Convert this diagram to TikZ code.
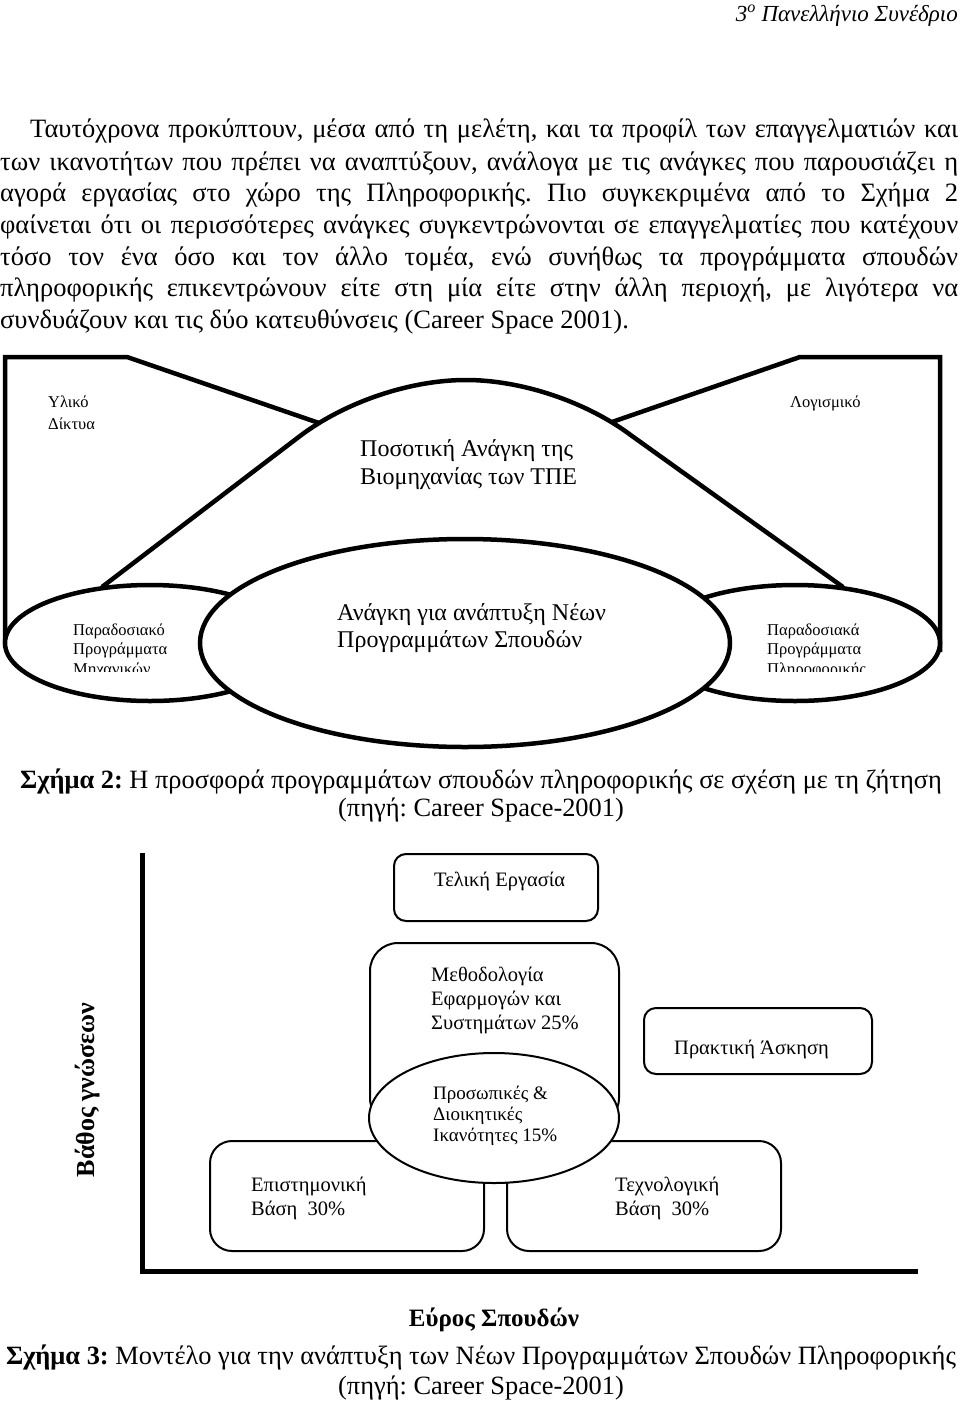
\documentclass[tikz,border=0pt]{standalone}
\usepackage{fontspec}
\setmainfont{Liberation Serif}
\usetikzlibrary{shapes.geometric}
\frenchspacing
\begin{document}
\begin{tikzpicture}[x=1pt,y=-1pt,
  txt/.style={inner sep=0pt, anchor=base west},
  bodyfont/.style={font=\fontsize{26.5}{30}\selectfont},
  ctr/.style={inner sep=0pt, anchor=base, font=\fontsize{26.4}{30}\selectfont},
  heavy/.style={line width=4.5pt},
  lbl/.style={txt, font=\fontsize{16.5}{19}\selectfont},
  big/.style={txt, font=\fontsize{24}{28}\selectfont},
  mid/.style={txt, font=\fontsize{20.5}{24}\selectfont},
  rbox/.style={draw, line width=2pt, anchor=north west, inner sep=0pt},
  oval/.style={draw, ellipse, inner sep=0pt, fill=white},
]
\fill[white] (0,0) rectangle (960,1402);
\useasboundingbox (0,0) rectangle (960,1402);

% header
\node[inner sep=0pt, anchor=base east, font=\fontsize{23}{26}\selectfont\itshape] (hdr) at (958,22) {3\textsuperscript{ο} Πανελλήνιο Συνέδριο};

% paragraph
\node[txt, bodyfont] (p1) at (30,138) {\makebox[928pt][s]{Ταυτόχρονα προκύπτουν, μέσα από τη μελέτη, και τα προφίλ των επαγγελματιών και}};
\node[txt, bodyfont] (p2) at (0,170) {\makebox[958pt][s]{των ικανοτήτων που πρέπει να αναπτύξουν, ανάλογα με τις ανάγκες που παρουσιάζει η}};
\node[txt, bodyfont] (p3) at (0,201) {\makebox[958pt][s]{αγορά εργασίας στο χώρο της Πληροφορικής. Πιο συγκεκριμένα από το Σχήμα 2}};
\node[txt, bodyfont] (p4) at (0,233) {\makebox[958pt][s]{φαίνεται ότι οι περισσότερες ανάγκες συγκεντρώνονται σε επαγγελματίες που κατέχουν}};
\node[txt, bodyfont] (p5) at (0,265) {\makebox[958pt][s]{τόσο τον ένα όσο και τον άλλο τομέα, ενώ συνήθως τα προγράμματα σπουδών}};
\node[txt, bodyfont] (p6) at (0,296) {\makebox[958pt][s]{πληροφορικής επικεντρώνουν είτε στη μία είτε στην άλλη περιοχή, με λιγότερα να}};
\node[txt, bodyfont] (p7) at (0,328) {συνδυάζουν και τις δύο κατευθύνσεις (Career Space 2001).};

% ---------- Figure 2 ----------
\draw[heavy] (5,645) -- (5,357) -- (127,357) -- (319,423);
\draw[heavy] (940,652) -- (940,357) -- (800,357) -- (612,422);
\draw[heavy] (102,587) -- (300,436) .. controls (345,402) and (410,380) .. (466,380)
  .. controls (522,380) and (587,402) .. (632,436) -- (843,587);

\node[oval, heavy, minimum width=290pt, minimum height=116pt] (eng) at (150,643) {};
\node[oval, heavy, minimum width=290pt, minimum height=116pt] (inf) at (795,643) {};
\node[oval, heavy, minimum width=530pt, minimum height=208pt] (new) at (465,643) {};

\node[lbl] (hw1) at (48,407) {Υλικό};
\node[lbl] (hw2) at (48,429) {Δίκτυα};
\node[lbl] (sw) at (790,407) {Λογισμικό};

\node[big] (q1) at (360,456) {Ποσοτική Ανάγκη της};
\node[big] (q2) at (360,484) {Βιομηχανίας των ΤΠΕ};

\node[big] (n1) at (337,620) {Ανάγκη για ανάπτυξη Νέων};
\node[big] (n2) at (337,647) {Προγραμμάτων Σπουδών};

\begin{scope}
\clip (0,600) rectangle (960,671);
\node[lbl] (e1) at (73,635) {Παραδοσιακό};
\node[lbl] (e2) at (73,654) {Προγράμματα};
\node[lbl] (e3) at (73,674) {Μηχανικών};
\node[lbl] (i1) at (767,635) {Παραδοσιακά};
\node[lbl] (i2) at (767,654) {Προγράμματα};
\node[lbl] (i3) at (767,674) {Πληροφορικής};
\end{scope}

\node[ctr] (cap2a) at (481,788) {\textbf{Σχήμα 2:} Η προσφορά προγραμμάτων σπουδών πληροφορικής σε σχέση με τη ζήτηση};
\node[ctr] (cap2b) at (481,816) {(πηγή: Career Space-2001)};

% ---------- Figure 3 ----------
\draw[line width=5pt] (142,853) -- (142,1271) -- (918,1271);

\node[rbox, rounded corners=12pt, minimum width=204pt, minimum height=67pt] (fin) at (393,853) {};
\node[rbox, rounded corners=28pt, minimum width=249pt, minimum height=183pt] (meth) at (369,942) {};
\node[rbox, rounded corners=12pt, minimum width=228pt, minimum height=66pt] (prak) at (643,1007) {};
\node[rbox, rounded corners=22pt, minimum width=274pt, minimum height=110pt] (sci) at (209,1140) {};
\node[rbox, rounded corners=22pt, minimum width=274pt, minimum height=110pt] (tech) at (506,1140) {};
\node[oval, line width=2pt, minimum width=250pt, minimum height=130pt] (pers) at (494,1118) {};

\node[mid] (t1) at (434,886) {Τελική Εργασία};
\node[mid] (m1) at (431,981) {Μεθοδολογία};
\node[mid] (m2) at (431,1005) {Εφαρμογών και};
\node[mid] (m3) at (431,1029) {Συστημάτων 25\%};
\node[mid] (pr) at (674,1054) {Πρακτική Άσκηση};
\node[txt, font=\fontsize{19}{22}\selectfont] (s1) at (433,1099) {Προσωπικές \&};
\node[txt, font=\fontsize{19}{22}\selectfont] (s2) at (433,1120) {Διοικητικές};
\node[txt, font=\fontsize{19}{22}\selectfont] (s3) at (433,1141) {Ικανότητες 15\%};
\node[mid] (b1) at (251,1191) {Επιστημονική};
\node[mid] (b2) at (251,1215) {Βάση\ \ 30\%};
\node[mid] (c1) at (615,1191) {Τεχνολογική};
\node[mid] (c2) at (615,1215) {Βάση\ \ 30\%};

\node[rotate=90, inner sep=0pt, font=\bfseries\fontsize{26}{30}\selectfont] (depth) at (88,1090) {Βάθος γνώσεων};
\node[ctr, font=\bfseries\fontsize{25}{28}\selectfont] (width) at (494,1326) {Εύρος Σπουδών};

\node[ctr] (cap3a) at (481,1364) {\textbf{Σχήμα 3:} Μοντέλο για την ανάπτυξη των Νέων Προγραμμάτων Σπουδών Πληροφορικής};
\node[ctr] (cap3b) at (481,1394) {(πηγή: Career Space-2001)};
\end{tikzpicture}
\end{document}
